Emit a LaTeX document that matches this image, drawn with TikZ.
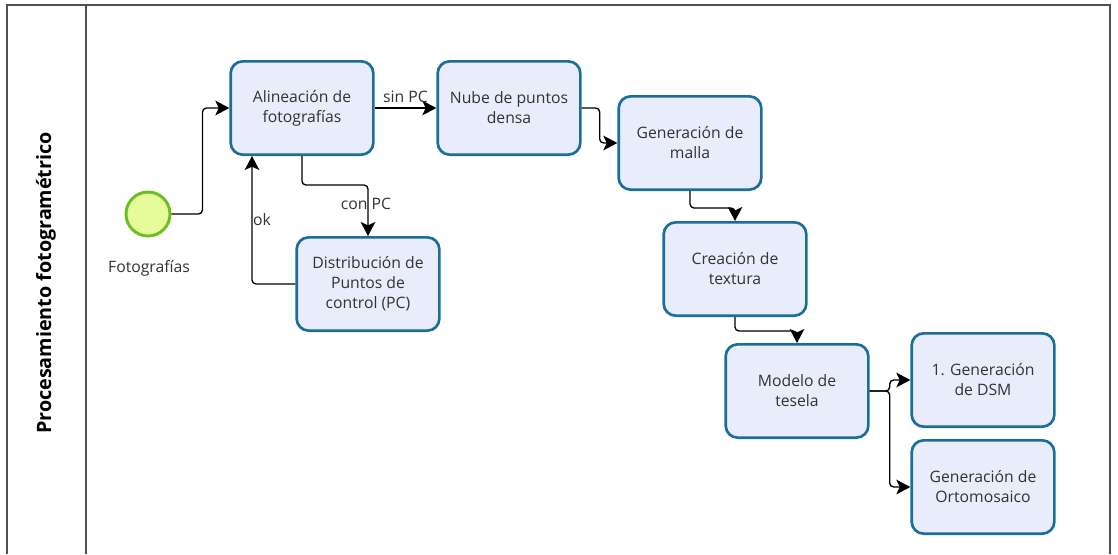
\documentclass[tikz,border=0pt]{standalone}
\usepackage{fontspec}
\setmainfont{Open Sans}
\usetikzlibrary{arrows.meta}

\definecolor{borde}{HTML}{1B6E9A}
\definecolor{relleno}{HTML}{E8ECFB}
\definecolor{verdeborde}{HTML}{6EBE22}
\definecolor{verderelleno}{HTML}{E6FC9A}
\definecolor{texto}{HTML}{333333}
\definecolor{marco}{HTML}{505050}

\begin{document}
\begin{tikzpicture}[
        x=0.75pt, y=-0.75pt,
        tarea/.style={draw=borde, fill=relleno, line width=2pt, rounded corners=9pt,
            minimum width=107pt, minimum height=70pt, align=center, text=texto,
            font=\fontsize{11.8}{15}\selectfont},
        inicio/.style={circle, draw=verdeborde, fill=verderelleno, line width=2.2pt, minimum size=33pt},
        flujo/.style={-{Stealth[length=10.5pt,width=11pt,inset=2.5pt]}, line width=1pt, rounded corners=3pt},
        etiqueta/.style={text=texto, font=\fontsize{11.8}{14}\selectfont}
    ]
        \useasboundingbox (0,0) rectangle (1118,554);

        % carril
        \draw[marco, line width=1.5pt] (7,554) -- (7,5) -- (1110,5) -- (1110,554);
        \draw[marco, line width=1.5pt] (86,5) -- (86,554);
        \node[rotate=90, font=\bfseries\fontsize{14.8}{16}\selectfont] (carril) at (46,283) {Procesamiento fotogramétrico};

        % tareas
        \node[inicio] (inicio) at (148,214) {};
        \node[etiqueta] (fotos) at (149,268) {Fotografías};
        \node[tarea] (alinea) at (302,108) {Alineación de\\fotografías};
        \node[tarea] (control) at (368,284) {Distribución de\\Puntos de\\control (PC)};
        \node[tarea] (nube) at (509,108) {Nube de puntos\\densa};
        \node[tarea] (malla) at (690,143) {Generación de\\malla};
        \node[tarea] (textura) at (735,269) {Creación de\\textura};
        \node[tarea] (tesela) at (797,391) {Modelo de\\tesela};
        \node[tarea] (dsm) at (983,380) {1. Generación\\de DSM};
        \node[tarea] (orto) at (983,487) {Generación de\\Ortomosaico};

        % flujos
        \draw[flujo] (inicio.east) -- ++(31,0) |- (alinea.west);
        \draw[flujo] (alinea) -- node[etiqueta, above] (sinpc) {sin PC} (nube);
        \draw[flujo] (alinea.south) -- ++(0,29) -| (control.north);
        \node[etiqueta] (conpc) at (366,204) {con PC};
        \draw[flujo] (control.west) -| ([xshift=-37.5pt]alinea.south);
        \node[etiqueta] (ok) at (262,220) {ok};
        \draw[flujo] (nube.east) -- ++(18,0) |- (malla.west);
        \draw[flujo] (malla.south) -- ++(0,17) -| (textura.north);
        \draw[flujo] (textura.south) -- ++(0,14) -| (tesela.north);
        \draw[flujo] (tesela.east) -- ++(20,0) |- (dsm.west);
        \draw[flujo] (tesela.east) -- ++(20,0) |- (orto.west);
    \end{tikzpicture}
\end{document}
